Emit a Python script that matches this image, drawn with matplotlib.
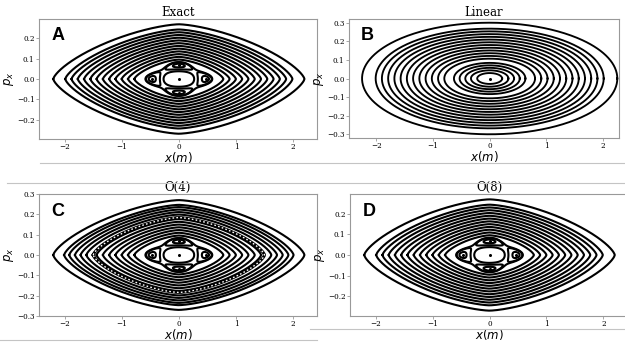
import numpy as np
import matplotlib
matplotlib.use('Agg')
import matplotlib.pyplot as plt
from matplotlib.lines import Line2D

# x-intercepts (m) of the invariant curves
rings_exact = [0.78, 0.89, 1.00, 1.11, 1.22, 1.33, 1.44, 1.55, 1.66, 1.77, 1.88, 1.99, 2.20]
rings_linear = [0.22, 0.33, 0.43, 0.53, 0.63, 0.80, 0.91, 1.02, 1.13, 1.24, 1.35,
                1.46, 1.57, 1.68, 1.79, 1.90, 2.01, 2.25]
rings_o4 = [0.78, 0.89, 1.00, 1.11, 1.22, 1.33, 1.44, 1.62, 1.72, 1.82, 1.92, 2.01, 2.20]
rings_o8 = [0.78, 0.89, 1.00, 1.11, 1.22, 1.33, 1.44, 1.55, 1.66, 1.77, 1.88, 1.99, 2.20]
dotted_o4 = 1.50

# p-extent / x-extent of the outer curves
aspect_nonlin = 0.27 / 2.2
aspect_linear = 0.30 / 2.25

# fourth-order resonance islands (centre positions)
island_x = 0.47
island_p = 0.067

titles = ['Exact', 'Linear', 'O(4)', 'O(8)']
letters = ['A', 'B', 'C', 'D']

plt.rcParams['font.family'] = 'DejaVu Serif'
plt.rcParams['mathtext.fontset'] = 'dejavusans'

fig = plt.figure(figsize=(6.25, 3.44), dpi=100)
W, H = 625.0, 344.0


def add_ax(left, top, right, bottom):
    return fig.add_axes([left / W, 1 - bottom / H, (right - left) / W, (bottom - top) / H])


axA = add_ax(39, 19, 317, 139)
axB = add_ax(349, 19, 619, 138)
axC = add_ax(39, 194, 317, 316)
axD = add_ax(350, 194, 629, 316)
axes = [axA, axB, axC, axD]

LW = 1.5


def lens(ax, a, asp, **kw):
    t = np.linspace(-1, 1, 800)
    pp = (1 - np.abs(t) ** 1.5) ** (1 / 1.4)
    x = np.concatenate([a * t, a * t[::-1]])
    p = np.concatenate([a * asp * pp, -a * asp * pp[::-1]])
    ax.plot(x, p, **kw)


def ellipse(ax, a, asp):
    t = np.linspace(0, 2 * np.pi, 400)
    ax.plot(a * np.cos(t), a * asp * np.sin(t), color='black', lw=1.35)


def flower(ax):
    X, P = np.meshgrid(np.linspace(-1.7, 1.7, 600), np.linspace(-1.7, 1.7, 600))
    r2 = X ** 2 + P ** 2
    k = 0.16
    R = -r2 + 0.5 * (r2 ** 2 - k * (X ** 4 - 6 * X ** 2 * P ** 2 + P ** 4)) / (1 - k)
    rs = np.sqrt((1 - k) / (1 + k))
    R_in = np.where(np.sqrt(r2) < rs, R, np.nan)
    R_out = np.where(np.sqrt(r2) > rs, R, np.nan)
    xs, ps = X * island_x, P * island_p
    kw = dict(colors='black', linewidths=LW, linestyles='solid')
    ax.contour(xs, ps, R_in, levels=[-0.272], **kw)
    ax.contour(xs, ps, R, levels=[-0.375], **kw)
    ax.contour(xs, ps, R, levels=[-0.465], **kw)
    ax.contour(xs, ps, R_out, levels=[-0.348], **kw)
    ax.plot([0, island_x, -island_x, 0, 0], [0, 0, 0, island_p, -island_p],
            'o', color='black', ms=2.2, mec='none')


for a in rings_exact:
    lens(axA, a, aspect_nonlin, color='black', lw=LW)
flower(axA)

for a in rings_linear:
    ellipse(axB, a, aspect_linear)
axB.plot([0], [0], 'o', color='black', ms=2.2, mec='none')

for a in rings_o4:
    lens(axC, a, aspect_nonlin, color='black', lw=LW)
lens(axC, dotted_o4, aspect_nonlin, color='black', lw=LW + 0.7)
lens(axC, dotted_o4, aspect_nonlin, color='white', lw=1.0, ls=(0, (1.2, 1.6)))
flower(axC)

for a in rings_o8:
    lens(axD, a, aspect_nonlin, color='black', lw=LW)
flower(axD)

xlims = [(-2.45, 2.42), (-2.48, 2.28), (-2.45, 2.42), (-2.45, 2.45)]
ylims = [(-0.296, 0.296), (-0.32, 0.32), (-0.3, 0.3), (-0.296, 0.296)]
yticks = [[-0.2, -0.1, 0.0, 0.1, 0.2], [-0.3, -0.2, -0.1, 0.0, 0.1, 0.2, 0.3],
          [-0.3, -0.2, -0.1, 0.0, 0.1, 0.2, 0.3], [-0.2, -0.1, 0.0, 0.1, 0.2]]

for ax, t, l, xl, yl, yt in zip(axes, titles, letters, xlims, ylims, yticks):
    ax.set_xlim(xl)
    ax.set_ylim(yl)
    ax.set_xticks([-2, -1, 0, 1, 2])
    ax.set_yticks(yt)
    ax.tick_params(labelsize=5.2, length=2, width=0.6, color='#999999', pad=1.2)
    for s in ax.spines.values():
        s.set_color('#999999')
        s.set_linewidth(0.8)
    ax.set_title(t, fontsize=8.5, pad=1.5)
    ax.set_xlabel('$x(m)$', fontsize=8.5, labelpad=-1)
    ax.set_ylabel('$p_x$', fontsize=8.5, labelpad=0.5)
    ax.text(0.045, 0.93, l, transform=ax.transAxes, ha='left', va='top',
            fontsize=13, fontweight='bold', family='Liberation Sans')

# light separators between the panels
sep = '#c4c4c4'
for (x0, x1, y) in [(40, 625, 163), (7, 625, 183), (0, 317, 340), (310, 625, 329)]:
    fig.add_artist(Line2D([x0 / W, x1 / W], [1 - y / H, 1 - y / H], color=sep, lw=0.8))

fig.savefig('out.png', dpi=100)
